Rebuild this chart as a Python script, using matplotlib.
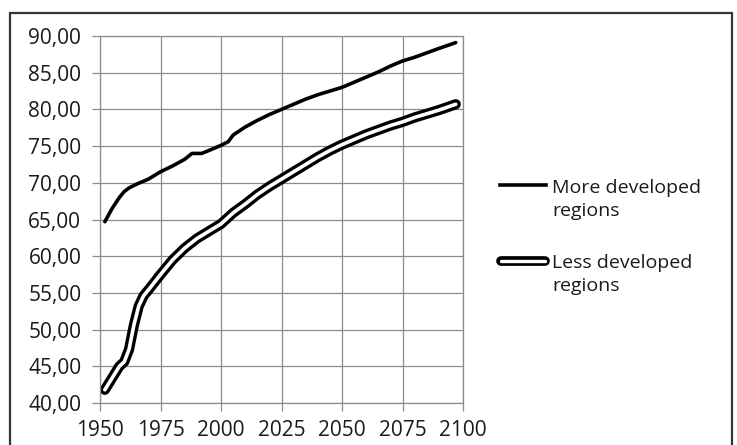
import matplotlib
matplotlib.use('Agg')
import matplotlib.pyplot as plt
from matplotlib.lines import Line2D
from matplotlib.patches import Rectangle

# values
more_years = [1952, 1955, 1958, 1960, 1962, 1965, 1970, 1975, 1980, 1985, 1988,
              1992, 1995, 2000, 2003, 2005, 2010, 2015, 2020, 2025, 2030, 2035,
              2040, 2045, 2050, 2055, 2060, 2065, 2070, 2075, 2080, 2085, 2090, 2097]
more_vals = [64.7, 66.5, 68.0, 68.8, 69.3, 69.8, 70.5, 71.5, 72.3, 73.2, 74.0,
             74.0, 74.4, 75.1, 75.6, 76.5, 77.6, 78.5, 79.3, 80.0, 80.7, 81.4,
             82.0, 82.5, 83.0, 83.7, 84.4, 85.1, 85.9, 86.6, 87.1, 87.7, 88.3, 89.1]

less_years = [1952, 1955, 1958, 1960, 1962, 1964, 1966, 1968, 1970, 1975, 1980,
              1985, 1990, 1995, 2000, 2005, 2010, 2015, 2020, 2025, 2030, 2035,
              2040, 2045, 2050, 2055, 2060, 2065, 2070, 2075, 2080, 2085, 2090, 2097]
less_vals = [41.8, 43.4, 45.0, 45.6, 47.3, 50.6, 53.2, 54.6, 55.4, 57.5, 59.5,
             61.1, 62.4, 63.4, 64.4, 65.9, 67.1, 68.4, 69.5, 70.5, 71.5, 72.5,
             73.5, 74.4, 75.2, 75.9, 76.6, 77.2, 77.8, 78.3, 78.9, 79.4, 79.9, 80.7]

x_ticks = [1950, 1975, 2000, 2025, 2050, 2075, 2100]
y_ticks = [40, 45, 50, 55, 60, 65, 70, 75, 80, 85, 90]
y_labels = ['40,00', '45,00', '50,00', '55,00', '60,00', '65,00',
            '70,00', '75,00', '80,00', '85,00', '90,00']
legend_lines = [['More developed', 'regions'], ['Less developed', 'regions']]

plt.rcParams['font.family'] = ['Open Sans', 'DejaVu Sans']
GRID = '#8c8c8c'
TXT = '#1a1a1a'

fig = plt.figure(figsize=(7.37, 4.45), dpi=100)
W, H = 737, 445

# outer chart frame
fig.add_artist(Rectangle((10 / W, -0.05), 722 / W, 1.05 - 13 / H,
                         transform=fig.transFigure, fill=False,
                         edgecolor='#333333', linewidth=1.6))

ax = fig.add_axes([100 / W, (H - 403) / H, 363 / W, 367 / H])

ax.plot(more_years, more_vals, color='black', lw=2.6,
        solid_capstyle='round', solid_joinstyle='round')
ax.plot(less_years, less_vals, color='black', lw=7.4,
        solid_capstyle='round', solid_joinstyle='round')
ax.plot(less_years, less_vals, color='white', lw=2.6,
        solid_capstyle='round', solid_joinstyle='round')

ax.set_xlim(1950, 2100)
ax.set_ylim(40, 90)
ax.set_xticks(x_ticks)
ax.set_yticks(y_ticks)
ax.set_yticklabels(y_labels)
ax.grid(True, color=GRID, lw=0.9)
ax.set_axisbelow(True)
for s in ax.spines.values():
    s.set_color(GRID)
    s.set_linewidth(0.9)
ax.tick_params(axis='both', direction='out', length=5.5, width=0.9, color=GRID,
               labelsize=15, labelcolor=TXT)
ax.tick_params(axis='y', pad=8)
ax.tick_params(axis='x', pad=7)

# legend drawn by hand to match layout
ly = [(H - 185) / H, (H - 261) / H]
fig.add_artist(Line2D([500 / W, 546 / W], [ly[0], ly[0]], color='black', lw=2.6,
                      transform=fig.transFigure))
fig.add_artist(Line2D([501 / W, 545 / W], [ly[1], ly[1]], color='black', lw=7.0,
                      solid_capstyle='round', transform=fig.transFigure))
fig.add_artist(Line2D([501 / W, 545 / W], [ly[1], ly[1]], color='white', lw=2.4,
                      solid_capstyle='round', transform=fig.transFigure))
baselines = [[193, 216], [268, 291]]
for rows, bl in zip(legend_lines, baselines):
    for row, b in zip(rows, bl):
        fig.text(552 / W, (H - b) / H, row, ha='left', va='baseline',
                 fontsize=14, color=TXT)

fig.savefig('out.png', dpi=100)
